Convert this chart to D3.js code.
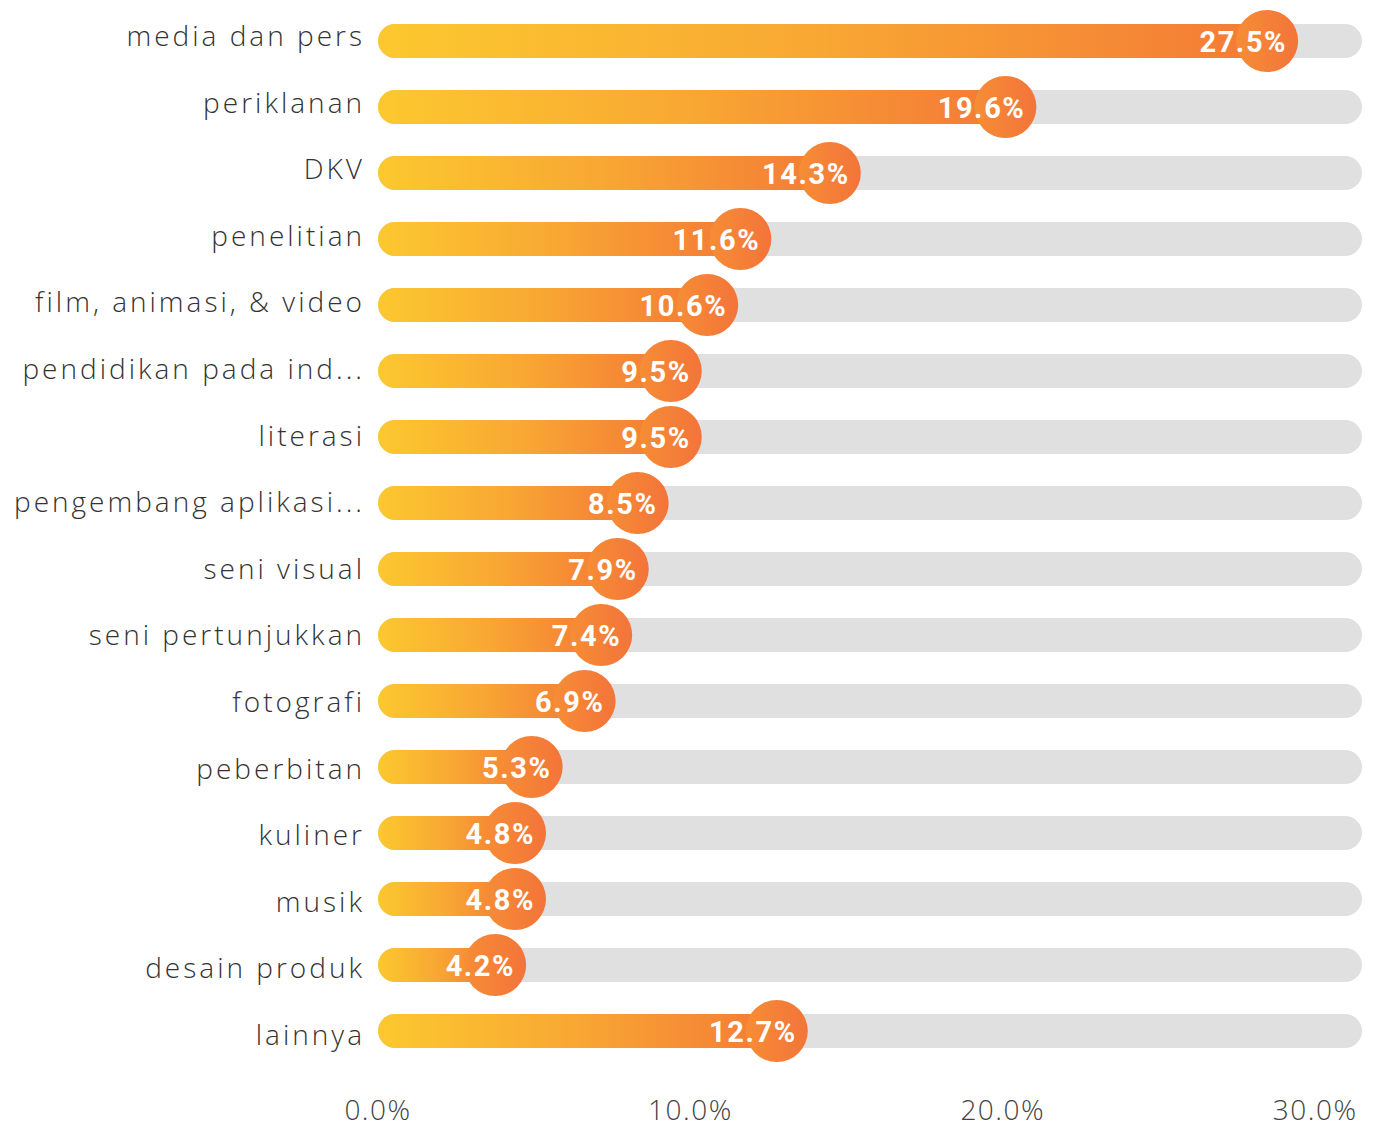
<!DOCTYPE html>
<html>
<head>
<meta charset="utf-8">
<script src="https://cdn.jsdelivr.net/npm/d3@7/dist/d3.min.js"></script>
<style>
  html, body { margin: 0; padding: 0; background: #ffffff; }
  svg { display: block; }
</style>
</head>
<body>
<svg id="chart" width="1378" height="1128"></svg>
<script>
// Sectors and their shares (%)
const categories = [
  "media dan pers", "periklanan", "DKV", "penelitian", "film, animasi, & video",
  "pendidikan pada ind...", "literasi", "pengembang aplikasi...", "seni visual",
  "seni pertunjukkan", "fotografi", "peberbitan", "kuliner", "musik",
  "desain produk", "lainnya"
];
const values = [27.5, 19.6, 14.3, 11.6, 10.6, 9.5, 9.5, 8.5, 7.9, 7.4, 6.9, 5.3, 4.8, 4.8, 4.2, 12.7];
const tickValues = [0, 10, 20, 30];
const tickLabels = ["0.0%", "10.0%", "20.0%", "30.0%"];

const svg = d3.select("#chart");

const trackLeft = 378, trackRight = 1362;
const barH = 34, dotR = 31;

// bar / marker position scale
const x = d3.scaleLinear().domain([0, 30]).range([356, 1350]);
// axis scale spanning the track
const xAxis = d3.scaleLinear().domain([0, 31.5]).range([trackLeft, trackRight]);
// row centres for the bars, and baselines for the category labels
const y = d3.scalePoint().domain(categories).range([41, 1031]);
const yLabel = d3.scalePoint().domain(categories).range([46, 1045]);

const defs = svg.append("defs");
const barGrad = defs.append("linearGradient").attr("id", "barGrad")
  .attr("x1", "0%").attr("x2", "100%").attr("y1", "0%").attr("y2", "0%");
barGrad.append("stop").attr("offset", "0%").attr("stop-color", "#fcc82f");
barGrad.append("stop").attr("offset", "50%").attr("stop-color", "#f8a733");
barGrad.append("stop").attr("offset", "100%").attr("stop-color", "#f47a36");

const dotGrad = defs.append("linearGradient").attr("id", "dotGrad")
  .attr("x1", "0%").attr("x2", "100%").attr("y1", "0%").attr("y2", "0%");
dotGrad.append("stop").attr("offset", "0%").attr("stop-color", "#f68d35");
dotGrad.append("stop").attr("offset", "100%").attr("stop-color", "#f3743a");

const rows = svg.append("g").selectAll("g.row")
  .data(categories.map((c, i) => ({ c, v: values[i] })))
  .join("g").attr("class", "row");

// grey tracks
rows.append("rect")
  .attr("x", trackLeft)
  .attr("y", d => y(d.c) - barH / 2)
  .attr("width", trackRight - trackLeft)
  .attr("height", barH)
  .attr("rx", barH / 2)
  .attr("fill", "#e0e0e0");

// gradient bars
rows.append("rect")
  .attr("x", trackLeft)
  .attr("y", d => y(d.c) - barH / 2)
  .attr("width", d => x(d.v) - trackLeft)
  .attr("height", barH)
  .attr("rx", barH / 2)
  .attr("fill", "url(#barGrad)");

// value markers
rows.append("circle")
  .attr("cx", d => x(d.v))
  .attr("cy", d => y(d.c))
  .attr("r", dotR)
  .attr("fill", "url(#dotGrad)");

// value labels
rows.append("text")
  .attr("x", d => x(d.v) + 20)
  .attr("y", d => y(d.c) + 11)
  .attr("text-anchor", "end")
  .attr("font-family", "Roboto, 'Open Sans', sans-serif")
  .attr("font-weight", 700)
  .attr("font-size", 29)
  .attr("letter-spacing", 1.6)
  .attr("fill", "#ffffff")
  .text(d => d.v.toFixed(1) + "%");

// category labels
rows.append("text")
  .attr("x", 365)
  .attr("y", d => yLabel(d.c))
  .attr("text-anchor", "end")
  .attr("font-family", "'Open Sans', sans-serif")
  .attr("font-weight", 300)
  .attr("font-size", 28)
  .attr("letter-spacing", 3)
  .attr("fill", "#333333")
  .text(d => d.c);

// x axis labels
svg.append("g").selectAll("text")
  .data(tickValues)
  .join("text")
  .attr("x", d => xAxis(d))
  .attr("y", 1120)
  .attr("text-anchor", "middle")
  .attr("font-family", "'Open Sans', sans-serif")
  .attr("font-weight", 300)
  .attr("font-size", 28)
  .attr("letter-spacing", 1.5)
  .attr("fill", "#444444")
  .text((d, i) => tickLabels[i]);
</script>
</body>
</html>
